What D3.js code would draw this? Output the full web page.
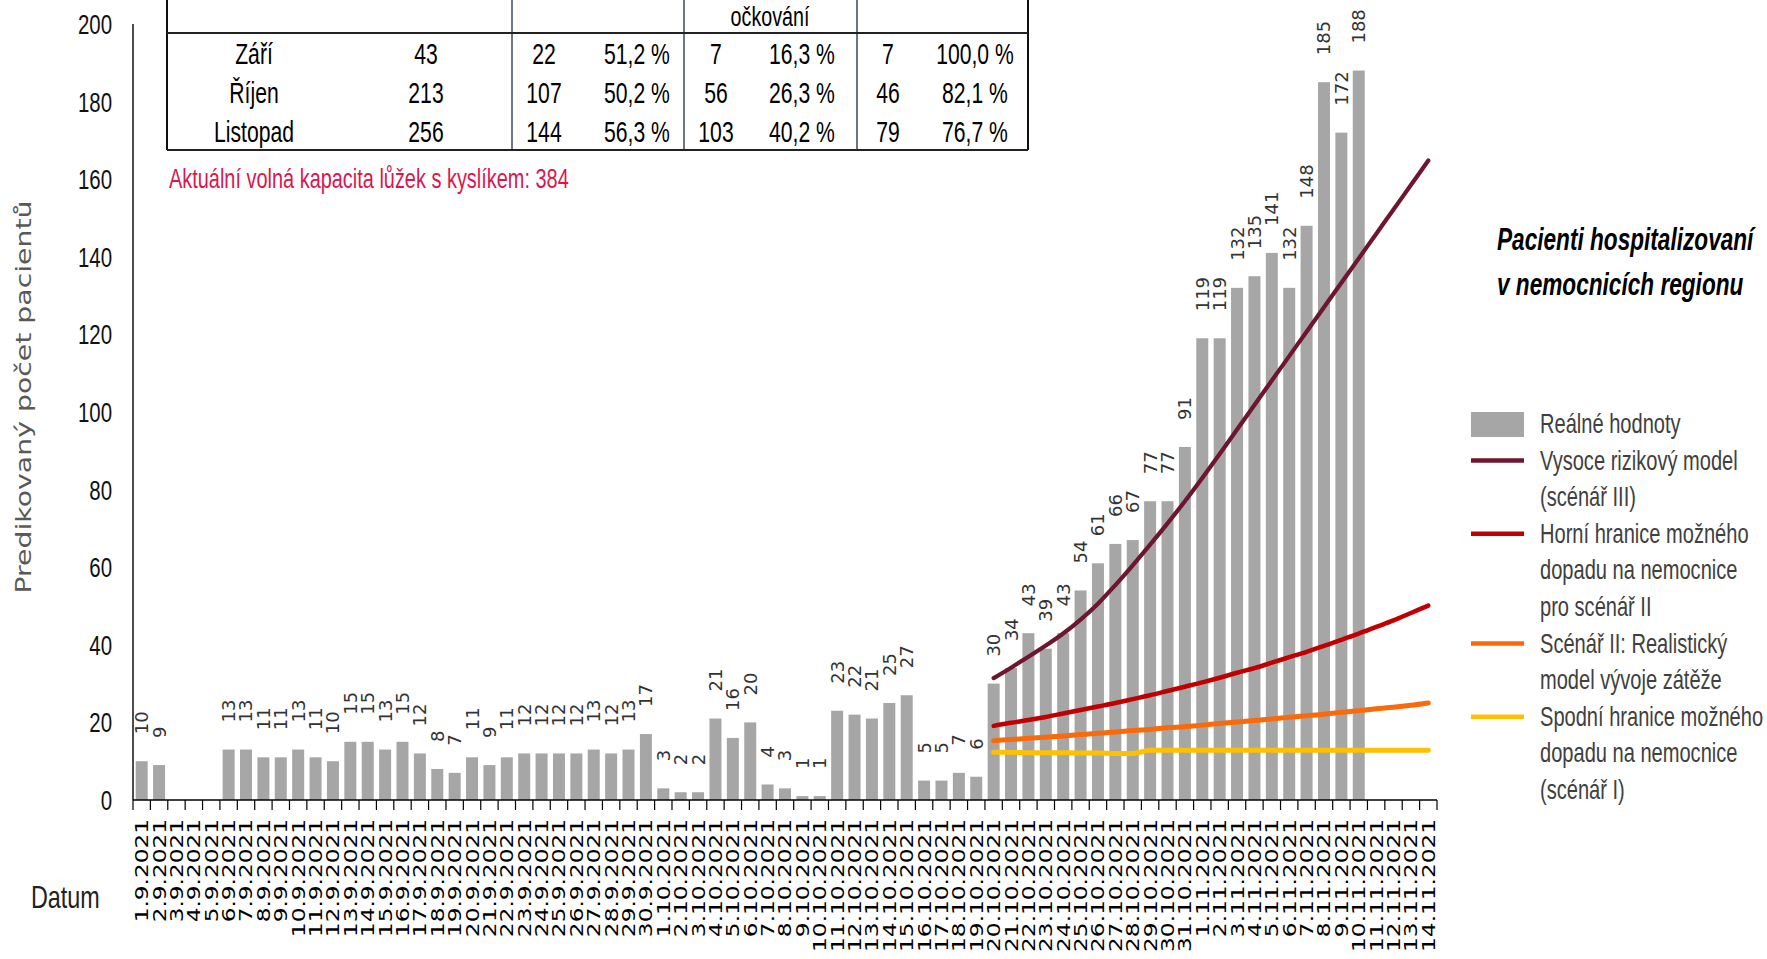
<!DOCTYPE html>
<html><head><meta charset="utf-8">
<script src="https://cdn.jsdelivr.net/npm/d3@7"></script>
<style>html,body{margin:0;padding:0;background:#fff;}svg{display:block;}</style>
</head><body>
<script>
// ---------- DATA ----------
const dates = ["1.9.2021","2.9.2021","3.9.2021","4.9.2021","5.9.2021","6.9.2021","7.9.2021","8.9.2021","9.9.2021","10.9.2021",
"11.9.2021","12.9.2021","13.9.2021","14.9.2021","15.9.2021","16.9.2021","17.9.2021","18.9.2021","19.9.2021","20.9.2021",
"21.9.2021","22.9.2021","23.9.2021","24.9.2021","25.9.2021","26.9.2021","27.9.2021","28.9.2021","29.9.2021","30.9.2021",
"1.10.2021","2.10.2021","3.10.2021","4.10.2021","5.10.2021","6.10.2021","7.10.2021","8.10.2021","9.10.2021","10.10.2021",
"11.10.2021","12.10.2021","13.10.2021","14.10.2021","15.10.2021","16.10.2021","17.10.2021","18.10.2021","19.10.2021","20.10.2021",
"21.10.2021","22.10.2021","23.10.2021","24.10.2021","25.10.2021","26.10.2021","27.10.2021","28.10.2021","29.10.2021","30.10.2021",
"31.10.2021","1.11.2021","2.11.2021","3.11.2021","4.11.2021","5.11.2021","6.11.2021","7.11.2021","8.11.2021","9.11.2021",
"10.11.2021","11.11.2021","12.11.2021","13.11.2021","14.11.2021"];

const realValues = [10,9,null,null,null,13,13,11,11,13,
11,10,15,15,13,15,12,8,7,11,
9,11,12,12,12,12,13,12,13,17,
3,2,2,21,16,20,4,3,1,1,
23,22,21,25,27,5,5,7,6,30,
34,43,39,43,54,61,66,67,77,77,
91,119,119,132,135,141,132,148,185,172,
188,null,null,null,null];

const modelStart = "20.10.2021";
const highRisk = [31.4,34.1,36.9,39.8,42.9,46.5,50.6,55.4,60.5,65.8,71.3,77.0,83.0,89.2,95.5,101.8,108.1,114.4,120.7,127.0,133.3,139.6,145.9,152.2,158.5,164.8];
const upperII  = [19.1,19.9,20.6,21.4,22.3,23.2,24.1,25.0,26.0,27.0,28.1,29.2,30.3,31.5,32.8,34.0,35.4,36.8,38.2,39.7,41.3,42.9,44.6,46.3,48.2,50.1];
const realisticII = [15.3,15.6,15.9,16.2,16.5,16.9,17.2,17.5,17.9,18.2,18.6,18.9,19.3,19.7,20.1,20.5,20.9,21.3,21.7,22.1,22.6,23.0,23.5,23.9,24.4,25.0];
const lowerI = [12.3,12.3,12.2,12.2,12.2,12.1,12.1,12.0,12.0,12.8,12.8,12.8,12.8,12.8,12.8,12.8,12.8,12.8,12.8,12.8,12.8,12.8,12.8,12.8,12.8,12.8];

const yTicks = [0,20,40,60,80,100,120,140,160,180,200];

const tableMonths = ["Září","Říjen","Listopad"];
const tableTotal = ["43","213","256"];
const tableC2n = ["22","107","144"];
const tableC2p = ["51,2 %","50,2 %","56,3 %"];
const tableC3n = ["7","56","103"];
const tableC3p = ["16,3 %","26,3 %","40,2 %"];
const tableC4n = ["7","46","79"];
const tableC4p = ["100,0 %","82,1 %","76,7 %"];
const tableHeader = "očkování";
const capacityNote = "Aktuální volná kapacita lůžek s kyslíkem: 384";

const legendTitle = ["Pacienti hospitalizovaní","v nemocnicích regionu"];
const legendItems = [
  {type:"rect", color:"#a6a6a6", lines:["Reálné hodnoty"]},
  {type:"line", color:"#6e1630", lines:["Vysoce rizikový model","(scénář III)"]},
  {type:"line", color:"#c00000", lines:["Horní hranice možného","dopadu na nemocnice","pro scénář II"]},
  {type:"line", color:"#fb6a0a", lines:["Scénář II: Realistický","model vývoje zátěže"]},
  {type:"line", color:"#ffc000", lines:["Spodní hranice možného","dopadu na nemocnice","(scénář I)"]}
];
const yTitle = "Predikovaný počet pacientů";
const xTitle = "Datum";

// ---------- DRAW ----------
const W = 1767, H = 959;
const svg = d3.select("body").append("svg").attr("width", W).attr("height", H);
svg.append("rect").attr("width", W).attr("height", H).attr("fill", "#fff");

const x = d3.scaleBand().domain(dates).range([133, 1437]).padding(0);
const y = d3.scaleLinear().domain([0, 200]).range([800, 24]);
const bw = x.bandwidth();
const NARROW = "'Liberation Sans', Arial, sans-serif";
const SX = 0.73;

function ntext(g, px, py, str, size, anchor, fill, extra) {
  const t = g.append("text")
    .attr("transform", `translate(${px},${py}) scale(${SX},1)`)
    .attr("font-family", NARROW).attr("font-size", size)
    .attr("text-anchor", anchor || "start").attr("fill", fill || "#000")
    .text(str);
  if (extra) extra(t);
  return t;
}

// Bars
const barData = dates.map((d, i) => ({d, v: realValues[i]})).filter(o => o.v != null);
svg.append("g").selectAll("rect").data(barData).join("rect")
  .attr("x", o => x(o.d) + bw * 0.155)
  .attr("width", bw * 0.69)
  .attr("y", o => y(o.v))
  .attr("height", o => y(0) - y(o.v))
  .attr("fill", "#a6a6a6");

// Data labels
svg.append("g").selectAll("text").data(barData).join("text")
  .attr("transform", o => `translate(${x(o.d) + bw / 2},${y(o.v) - 27}) rotate(-90)`)
  .attr("dy", "0.36em")
  .attr("font-family", "'DejaVu Sans', Verdana, sans-serif")
  .attr("font-size", 18)
  .attr("fill", "#333")
  .text(o => o.v);

// Model lines
const s0 = dates.indexOf(modelStart);
const modelDates = dates.slice(s0, s0 + highRisk.length);
const lineGen = d3.line().x((v, i) => x(modelDates[i]) + bw / 2).y(v => y(v)).curve(d3.curveMonotoneX);
const models = [
  {vals: lowerI, color: "#ffc000", w: 5},
  {vals: realisticII, color: "#fb6a0a", w: 5},
  {vals: upperII, color: "#c00000", w: 4.5},
  {vals: highRisk, color: "#6e1630", w: 4.2}
];
svg.append("g").selectAll("path").data(models).join("path")
  .attr("d", m => lineGen(m.vals))
  .attr("fill", "none").attr("stroke", m => m.color).attr("stroke-width", m => m.w)
  .attr("stroke-linecap", "round");

// X axis
const axisG = svg.append("g");
axisG.append("line").attr("x1", x.range()[0]).attr("x2", x.range()[1]).attr("y1", y(0)).attr("y2", y(0))
  .attr("stroke", "#000").attr("stroke-width", 1.6);
const bounds = dates.map(d => x(d)).concat([x.range()[1]]);
axisG.selectAll("line.tk").data(bounds).join("line").attr("class", "tk")
  .attr("x1", b => b).attr("x2", b => b).attr("y1", y(0)).attr("y2", y(0) + 10)
  .attr("stroke", "#000").attr("stroke-width", 1.2);
axisG.selectAll("text").data(dates).join("text")
  .attr("transform", d => `translate(${x(d) + bw / 2},819) rotate(-90) scale(1.29,1)`)
  .attr("dy", "0.36em")
  .attr("text-anchor", "end")
  .attr("font-family", "'DejaVu Sans', Verdana, sans-serif")
  .attr("font-size", 18)
  .attr("fill", "#000")
  .text(d => d);

// Y axis
svg.append("line").attr("x1", 133).attr("x2", 133).attr("y1", y(200)).attr("y2", y(0))
  .attr("stroke", "#000").attr("stroke-width", 1.4);
const yg = svg.append("g");
yTicks.forEach(v => ntext(yg, 112, y(v), String(v), 28, "end", "#111", t => t.attr("dy", "0.36em")));

// Axis titles
svg.append("text")
  .attr("transform", `translate(23,397) rotate(-90)`)
  .attr("dy", "0.36em")
  .attr("text-anchor", "middle")
  .attr("font-family", "'DejaVu Sans', Verdana, sans-serif")
  .attr("font-size", 21)
  .attr("textLength", 393).attr("lengthAdjust", "spacingAndGlyphs")
  .attr("fill", "#595959")
  .text(yTitle);
ntext(svg, 31, 908, xTitle, 32, "start", "#222");

// Table
const tg = svg.append("g");
const tL = 167, tR = 1028, tTop = -2, tHead = 33, tBot = 150;
[512, 684, 857].forEach(xx => tg.append("line").attr("x1", xx).attr("x2", xx).attr("y1", tTop).attr("y2", tBot)
  .attr("stroke", "#3a4a5c").attr("stroke-width", 1.5));
tg.append("line").attr("x1", tL).attr("x2", tL).attr("y1", tTop).attr("y2", tBot).attr("stroke", "#111").attr("stroke-width", 2);
tg.append("line").attr("x1", tR).attr("x2", tR).attr("y1", tTop).attr("y2", tBot).attr("stroke", "#111").attr("stroke-width", 2);
tg.append("line").attr("x1", tL).attr("x2", tR).attr("y1", tHead).attr("y2", tHead).attr("stroke", "#222").attr("stroke-width", 2);
tg.append("line").attr("x1", tL).attr("x2", tR).attr("y1", tBot).attr("y2", tBot).attr("stroke", "#222").attr("stroke-width", 2);
ntext(tg, 770, 26, tableHeader, 27, "middle", "#000");
const rowBase = [64, 103, 142];
const cols = [
  {arr: tableMonths, cx: 254}, {arr: tableTotal, cx: 426},
  {arr: tableC2n, cx: 544}, {arr: tableC2p, cx: 637},
  {arr: tableC3n, cx: 716}, {arr: tableC3p, cx: 802},
  {arr: tableC4n, cx: 888}, {arr: tableC4p, cx: 975}
];
cols.forEach(c => c.arr.forEach((s, i) => ntext(tg, c.cx, rowBase[i], s, 29, "middle", "#000")));

// Capacity note
ntext(svg, 169, 188, capacityNote, 27.3, "start", "#d9174f");

// Legend title
legendTitle.forEach((s, i) => svg.append("text")
  .attr("transform", `translate(1497,${[250, 295][i]}) scale(${SX},1)`)
  .attr("font-family", NARROW).attr("font-size", 31)
  .attr("font-weight", "bold").attr("font-style", "italic").attr("fill", "#000")
  .text(s));

// Legend items
const lg = svg.append("g");
const lineStep = 36.6;
let row = 0;
legendItems.forEach(it => {
  const cy = 424 + row * lineStep;
  if (it.type === "rect") {
    lg.append("rect").attr("x", 1471).attr("y", cy - 12).attr("width", 53).attr("height", 25).attr("fill", it.color);
  } else {
    lg.append("line").attr("x1", 1471).attr("x2", 1524).attr("y1", cy).attr("y2", cy)
      .attr("stroke", it.color).attr("stroke-width", 4.5);
  }
  it.lines.forEach((s, j) => {
    ntext(lg, 1540, cy + j * lineStep + 9, s, 27.5, "start", "#404040");
  });
  row += it.lines.length;
});
</script>
</body></html>
